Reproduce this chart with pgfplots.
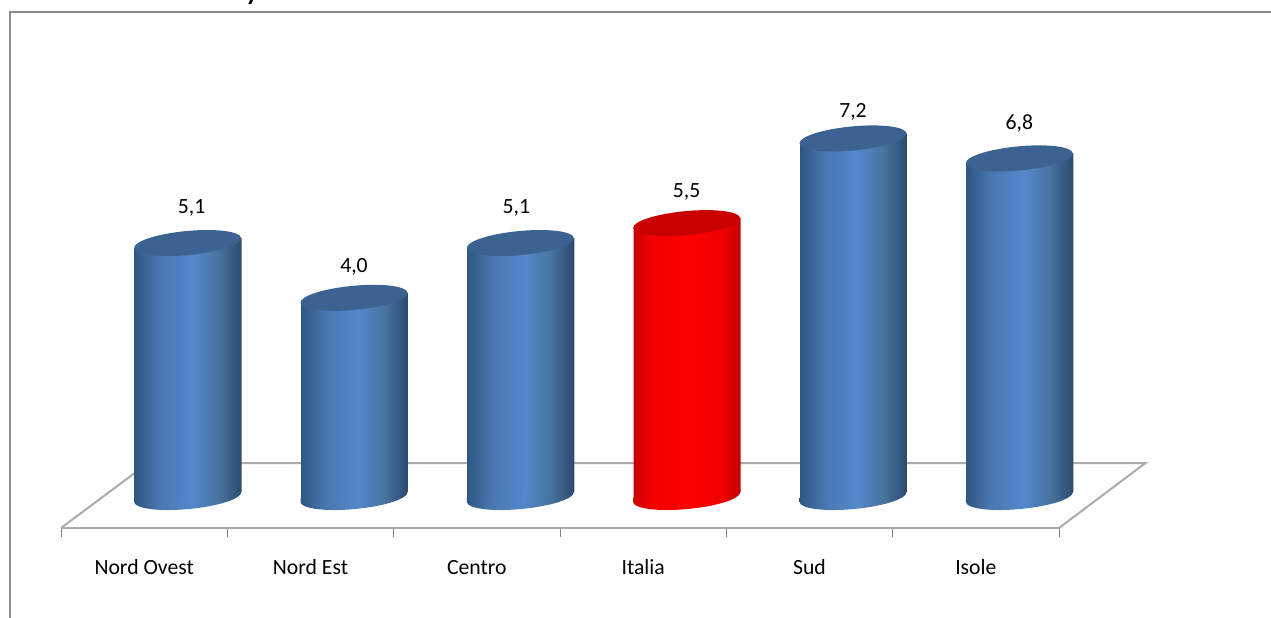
\documentclass[border=0pt]{standalone}
\usepackage{pgfplots}
\usepackage{pgfplotstable}
\pgfplotsset{compat=1.18}
\usepackage{fontspec}
\setmainfont{Carlito}
\definecolor{blueA}{HTML}{2F5784}
\definecolor{blueB}{HTML}{4A78B2}
\definecolor{blueC}{HTML}{5487CB}
\definecolor{blueD}{HTML}{47739F}
\definecolor{blueE}{HTML}{2B4A6E}
\definecolor{blueTop}{HTML}{3C6291}
\definecolor{redA}{HTML}{C80000}
\definecolor{redB}{HTML}{F20000}
\definecolor{redC}{HTML}{FF0000}
\definecolor{redD}{HTML}{F00000}
\definecolor{redE}{HTML}{C00000}
\definecolor{redTop}{HTML}{C80000}
\definecolor{frameg}{HTML}{8C8C8C}
\definecolor{floorg}{HTML}{ABABAB}
% TikZ fits a path's box to the middle 50bp of a 100bp shading
\pgfdeclarehorizontalshading{cylblue}{100bp}{color(0bp)=(blueA); color(25bp)=(blueA); color(37bp)=(blueB); color(52bp)=(blueC); color(64bp)=(blueD); color(75bp)=(blueE); color(100bp)=(blueE)}
\pgfdeclarehorizontalshading{cylred}{100bp}{color(0bp)=(redA); color(25bp)=(redA); color(33bp)=(redB); color(50bp)=(redC); color(67bp)=(redD); color(75bp)=(redE); color(100bp)=(redE)}
% top and bottom caps of the cylinders; 43.5pt is the depth offset of the bars
\pgfdeclareplotmark{captop}{\pgfpathellipse{\pgfpoint{43.5pt}{0pt}}{\pgfpoint{53.5pt}{5pt}}{\pgfpoint{-1pt}{12pt}}\pgfusepath{fill}}
\pgfdeclareplotmark{capbotblue}{\path[shading=cylblue,shading angle=0,draw=none] (-10pt,-5pt) .. controls (-9.45pt,-11.63pt) and (14.95pt,-14.76pt) .. (44.5pt,-12pt) .. controls (74.05pt,-9.24pt) and (97.55pt,-1.63pt) .. (97pt,5pt) -- (97pt,9pt) -- (-10pt,-1pt) -- cycle;}
\pgfdeclareplotmark{capbotred}{\path[shading=cylred,shading angle=0,draw=none] (-10pt,-5pt) .. controls (-9.45pt,-11.63pt) and (14.95pt,-14.76pt) .. (44.5pt,-12pt) .. controls (74.05pt,-9.24pt) and (97.55pt,-1.63pt) .. (97pt,5pt) -- (97pt,9pt) -- (-10pt,-1pt) -- cycle;}
\pgfplotstableread{
x v dx dy
0 5.1 4 35
1 4.0 0 31
2 5.1 -4 35
4 7.2 0 27
5 6.8 0 35
}\bluedata
\pgfplotstableread{
x v dx dy
3 5.5 0 31
}\reddata
\pgfplotstableread{
x v
0 0
1 0
2 0
4 0
5 0
}\bluebase
\pgfplotstableread{
x v
3 0
}\redbase
\begin{document}
\begin{tikzpicture}[x=1pt,y=1pt]
\useasboundingbox (0,0) rectangle (1271,618);
\draw[frameg,line width=2pt] (9.5,0) -- (9.5,606) -- (1271,606);
\node[font=\fontsize{26}{30}\selectfont\bfseries,anchor=base,inner sep=0pt] at (252,617) {y};
\begin{axis}[
  at={(61pt,90pt)},anchor=south west,
  scale only axis,width=998pt,height=429.4pt,
  xmin=-0.5,xmax=5.5,ymin=-0.622,ymax=8,
  clip=false,
  axis y line=none,
  axis x line=bottom,
  axis line style={floorg,line width=2pt,-},
  xtick={0,1,2,3,4,5},
  xticklabels={Nord Ovest,Nord Est,Centro,Italia,Sud,Isole},
  minor xtick={-0.5,0.5,1.5,2.5,3.5,4.5,5.5},
  major tick length=0pt,
  minor tick length=9pt,
  tick align=outside,
  minor tick style={gray,line width=1pt},
  xticklabel style={font=\fontsize{21.7}{26}\selectfont,anchor=base,yshift=-47pt},
  /pgf/number format/assume math mode=true,
  nodes near coords={\pgfmathprintnumber[fixed,fixed zerofill,precision=1,use comma,assume math mode=true]{\pgfplotspointmeta}},
  nodes near coords style={font=\fontsize{21.7}{26}\selectfont,anchor=center,black},
]
% floor of the 3-D plot
\addplot[floorg,line width=2pt,nodes near coords={}] coordinates {(-0.5,-0.622) (0.024,0.683) (6.02,0.683) (5.5,-0.622)};
% cylinder bodies
\addplot[shading=cylblue,shading angle=0,draw=none,nodes near coords={}] coordinates {(-0.057,5.0) (0.586,5.2) (0.586,0.1) (-0.057,-0.1)} -- cycle;
\addplot[shading=cylblue,shading angle=0,draw=none,nodes near coords={}] coordinates {(0.943,3.9) (1.586,4.1) (1.586,0.1) (0.943,-0.1)} -- cycle;
\addplot[shading=cylblue,shading angle=0,draw=none,nodes near coords={}] coordinates {(1.943,5.0) (2.586,5.2) (2.586,0.1) (1.943,-0.1)} -- cycle;
\addplot[shading=cylred,shading angle=0,draw=none,nodes near coords={}] coordinates {(2.943,5.4) (3.586,5.6) (3.586,0.1) (2.943,-0.1)} -- cycle;
\addplot[shading=cylblue,shading angle=0,draw=none,nodes near coords={}] coordinates {(3.943,7.1) (4.586,7.3) (4.586,0.1) (3.943,-0.1)} -- cycle;
\addplot[shading=cylblue,shading angle=0,draw=none,nodes near coords={}] coordinates {(4.943,6.7) (5.586,6.9) (5.586,0.1) (4.943,-0.1)} -- cycle;
% bottom caps (lower half)
\addplot[only marks,mark=capbotblue,nodes near coords={}] table[x=x,y=v] {\bluebase};
\addplot[only marks,mark=capbotred,nodes near coords={}] table[x=x,y=v] {\redbase};
% top caps with the value labels
\addplot[only marks,mark=captop,mark options={fill=blueTop,draw=none},
  visualization depends on=\thisrow{dx}\as\dx,
  visualization depends on=\thisrow{dy}\as\dy,
  nodes near coords style={xshift=43.5pt+\dx,yshift=\dy}]
  table[x=x,y=v] {\bluedata};
\addplot[only marks,mark=captop,mark options={fill=redTop,draw=none},
  visualization depends on=\thisrow{dx}\as\dx,
  visualization depends on=\thisrow{dy}\as\dy,
  nodes near coords style={xshift=43.5pt+\dx,yshift=\dy}]
  table[x=x,y=v] {\reddata};
\end{axis}
\end{tikzpicture}
\end{document}
